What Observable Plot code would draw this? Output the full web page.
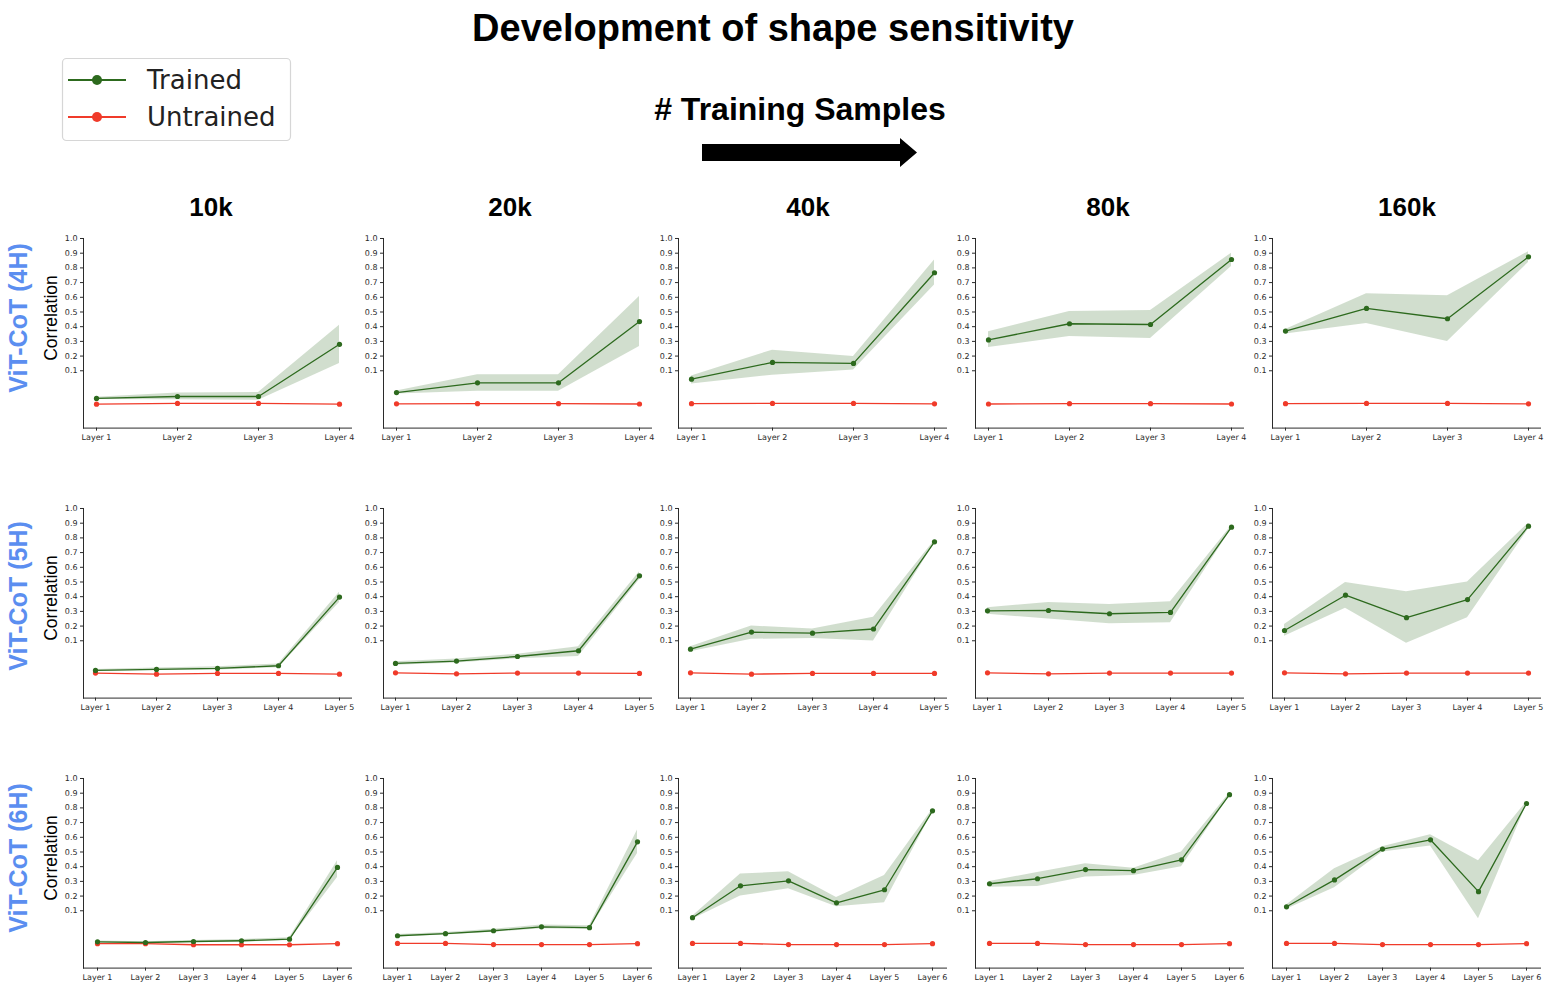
<!DOCTYPE html>
<html>
<head>
<meta charset="utf-8">
<script src="https://cdn.jsdelivr.net/npm/d3@7"></script>
<script src="https://cdn.jsdelivr.net/npm/@observablehq/plot@0.6"></script>
<style>
  body { margin: 0; background: #fff; }
  #root { position: relative; width: 1546px; height: 990px; overflow: hidden; }
  .panel { position: absolute; }
  #overlay { position: absolute; left: 0; top: 0; }
</style>
</head>
<body>
<div id="root"></div>
<script>
// ---------- data ----------
const samples = ["10k", "20k", "40k", "80k", "160k"];
const models = ["ViT-CoT (4H)", "ViT-CoT (5H)", "ViT-CoT (6H)"];
const series = ["Trained", "Untrained"];
const layers4 = ["Layer 1", "Layer 2", "Layer 3", "Layer 4"];
const layers5 = ["Layer 1", "Layer 2", "Layer 3", "Layer 4", "Layer 5"];
const layers6 = ["Layer 1", "Layer 2", "Layer 3", "Layer 4", "Layer 5", "Layer 6"];
const yTicks = [0.1, 0.2, 0.3, 0.4, 0.5, 0.6, 0.7, 0.8, 0.9, 1.0];

// 4 heads
const trained4H = [
  [-0.088, -0.075, -0.075, 0.28],
  [-0.048, 0.018, 0.018, 0.435],
  [0.043, 0.157, 0.15, 0.767],
  [0.31, 0.42, 0.415, 0.857],
  [0.37, 0.524, 0.454, 0.875]
];
const lower4H = [
  [-0.095, -0.097, -0.1, 0.15],
  [-0.058, -0.04, -0.04, 0.265],
  [0.01, 0.07, 0.105, 0.683],
  [0.258, 0.333, 0.32, 0.81],
  [0.35, 0.422, 0.3, 0.837]
];
const upper4H = [
  [-0.08, -0.052, -0.048, 0.41],
  [-0.038, 0.073, 0.073, 0.605],
  [0.065, 0.24, 0.197, 0.853],
  [0.365, 0.503, 0.51, 0.9],
  [0.38, 0.624, 0.61, 0.91]
];
const untrained4H = [
  [-0.127, -0.122, -0.122, -0.127],
  [-0.125, -0.124, -0.124, -0.126],
  [-0.124, -0.122, -0.122, -0.125],
  [-0.126, -0.124, -0.124, -0.126],
  [-0.124, -0.122, -0.122, -0.125]
];

// 5 heads
const trained5H = [
  [-0.102, -0.095, -0.088, -0.07, 0.397],
  [-0.054, -0.038, -0.007, 0.032, 0.542],
  [0.043, 0.159, 0.152, 0.18, 0.773],
  [0.304, 0.306, 0.284, 0.293, 0.873],
  [0.17, 0.41, 0.257, 0.38, 0.88]
];
const lower5H = [
  [-0.108, -0.103, -0.098, -0.083, 0.36],
  [-0.066, -0.052, -0.022, -0.007, 0.515],
  [0.025, 0.11, 0.116, 0.098, 0.763],
  [0.28, 0.248, 0.216, 0.222, 0.863],
  [0.13, 0.322, 0.084, 0.257, 0.86]
];
const upper5H = [
  [-0.096, -0.085, -0.077, -0.058, 0.43],
  [-0.042, -0.024, 0.008, 0.06, 0.57],
  [0.06, 0.2, 0.18, 0.26, 0.783],
  [0.325, 0.36, 0.347, 0.366, 0.883],
  [0.21, 0.496, 0.433, 0.5, 0.9]
];
const untrained5H = [
  [-0.12, -0.127, -0.122, -0.122, -0.127],
  [-0.118, -0.125, -0.12, -0.12, -0.122],
  [-0.118, -0.127, -0.122, -0.122, -0.122],
  [-0.118, -0.125, -0.12, -0.12, -0.12],
  [-0.118, -0.125, -0.12, -0.12, -0.12]
];

// 6 heads
const trained6H = [
  [-0.111, -0.116, -0.109, -0.104, -0.093, 0.395],
  [-0.07, -0.056, -0.036, -0.009, -0.015, 0.569],
  [0.053, 0.27, 0.304, 0.154, 0.243, 0.78],
  [0.284, 0.318, 0.38, 0.373, 0.447, 0.89],
  [0.127, 0.31, 0.52, 0.583, 0.23, 0.83]
];
const lower6H = [
  [-0.117, -0.121, -0.116, -0.113, -0.102, 0.327],
  [-0.078, -0.064, -0.046, -0.022, -0.028, 0.49],
  [0.043, 0.2, 0.25, 0.128, 0.155, 0.77],
  [0.26, 0.265, 0.33, 0.34, 0.4, 0.88],
  [0.11, 0.256, 0.5, 0.54, 0.046, 0.82]
];
const upper6H = [
  [-0.105, -0.111, -0.102, -0.095, -0.084, 0.44],
  [-0.062, -0.048, -0.026, 0.004, -0.002, 0.65],
  [0.063, 0.35, 0.365, 0.19, 0.34, 0.79],
  [0.3, 0.36, 0.42, 0.39, 0.5, 0.9],
  [0.14, 0.386, 0.535, 0.617, 0.44, 0.84]
];
const untrained6H = [
  [-0.124, -0.124, -0.131, -0.131, -0.131, -0.124],
  [-0.122, -0.122, -0.13, -0.13, -0.13, -0.124],
  [-0.122, -0.122, -0.13, -0.13, -0.13, -0.124],
  [-0.122, -0.122, -0.13, -0.13, -0.13, -0.124],
  [-0.122, -0.122, -0.13, -0.13, -0.13, -0.124]
];

// ---------- layout / style ----------
const GREEN = "#2d6a1e";
const RED = "#f03b2a";
const BLUE = "#5b8ef0";
const colLeft = [83.3, 382.7, 678.3, 975, 1271.7];
const headerX = [211, 510, 808, 1108, 1407];
const rowTop = [237.7, 507.7, 777.7];
const frameW = 268, frameH = 189.6;
const ML = 42, MR = 14, MT = 6, MB = 24;

const rows = [
  {layers: layers4, tr: trained4H, lo: lower4H, hi: upper4H, un: untrained4H},
  {layers: layers5, tr: trained5H, lo: lower5H, hi: upper5H, un: untrained5H},
  {layers: layers6, tr: trained6H, lo: lower6H, hi: upper6H, un: untrained6H}
];

const root = document.getElementById("root");

rows.forEach((row, r) => {
  samples.forEach((s, c) => {
    const tData = row.layers.map((L, i) => ({layer: L, v: row.tr[c][i], lo: row.lo[c][i], hi: row.hi[c][i]}));
    const uData = row.layers.map((L, i) => ({layer: L, v: row.un[c][i]}));
    const chart = Plot.plot({
      width: ML + frameW + MR,
      height: MT + frameH + MB,
      marginLeft: ML, marginRight: MR, marginTop: MT, marginBottom: MB,
      style: {background: "transparent", fontFamily: "DejaVu Sans", fontSize: "8px", color: "#2a2a2a", overflow: "visible"},
      x: {type: "point", domain: row.layers, padding: 0, insetLeft: 12, insetRight: 12, label: null, tickSize: 3, tickPadding: 3.5, line: true},
      y: {domain: [-0.29, 1.0], ticks: yTicks, tickFormat: d3.format(".1f"), label: null, tickSize: 3, tickPadding: 3, line: true},
      marks: [
        Plot.areaY(tData, {x: "layer", y1: "lo", y2: "hi", fill: GREEN, fillOpacity: 0.22}),
        Plot.line(uData, {x: "layer", y: "v", stroke: RED, strokeWidth: 1.3}),
        Plot.dot(uData, {x: "layer", y: "v", fill: RED, r: 2.6}),
        Plot.line(tData, {x: "layer", y: "v", stroke: GREEN, strokeWidth: 1.3}),
        Plot.dot(tData, {x: "layer", y: "v", fill: GREEN, r: 2.6})
      ]
    });
    chart.classList.add("panel");
    chart.style.left = (colLeft[c] - ML) + "px";
    chart.style.top = (rowTop[r] - MT) + "px";
    root.appendChild(chart);
  });
});

// ---------- overlay text, arrow, legend ----------
const svg = d3.select(root).append("svg").attr("id", "overlay")
  .attr("width", 1546).attr("height", 990).style("pointer-events", "none");

svg.append("text").attr("x", 773).attr("y", 41).attr("text-anchor", "middle")
  .style("font-family", "'Liberation Sans', Arial, sans-serif").style("font-weight", "bold").style("font-size", "38px")
  .text("Development of shape sensitivity");

svg.append("text").attr("x", 800).attr("y", 120).attr("text-anchor", "middle")
  .style("font-family", "'Liberation Sans', Arial, sans-serif").style("font-weight", "bold").style("font-size", "32px")
  .text("# Training Samples");

svg.append("path").attr("d", "M702,144 L900,144 L900,138 L917,152.5 L900,167 L900,161 L702,161 Z").attr("fill", "#000");

samples.forEach((s, c) => {
  svg.append("text").attr("x", headerX[c]).attr("y", 216).attr("text-anchor", "middle")
    .style("font-family", "'Liberation Sans', Arial, sans-serif").style("font-weight", "bold").style("font-size", "26px")
    .text(s);
});

const rowLabelY = [318, 596, 858];
const corrY = [318, 598, 858];
models.forEach((m, r) => {
  svg.append("text").attr("transform", `translate(27,${rowLabelY[r]}) rotate(-90)`).attr("text-anchor", "middle")
    .style("font-family", "'Liberation Sans', Arial, sans-serif").style("font-weight", "bold").style("font-size", "25px")
    .attr("fill", BLUE).text(m);
  svg.append("text").attr("transform", `translate(57,${corrY[r]}) rotate(-90)`).attr("text-anchor", "middle")
    .style("font-family", "'Liberation Sans', Arial, sans-serif").style("font-size", "17.5px")
    .attr("fill", "#000").text("Correlation");
});

// legend
const lg = svg.append("g");
lg.append("rect").attr("x", 62.5).attr("y", 58.5).attr("width", 228).attr("height", 82).attr("rx", 4)
  .attr("fill", "#fff").attr("stroke", "#d6d6d6").attr("stroke-width", 1.2);
const legendColors = [GREEN, RED];
series.forEach((name, i) => {
  const y = 80 + i * 37;
  lg.append("line").attr("x1", 68).attr("x2", 126).attr("y1", y).attr("y2", y)
    .attr("stroke", legendColors[i]).attr("stroke-width", 2.2);
  lg.append("circle").attr("cx", 97).attr("cy", y).attr("r", 5).attr("fill", legendColors[i]);
  lg.append("text").attr("x", 147).attr("y", y + 9)
    .style("font-family", "'DejaVu Sans', sans-serif").style("font-size", "26px").attr("fill", "#222")
    .text(name);
});
</script>
</body>
</html>
